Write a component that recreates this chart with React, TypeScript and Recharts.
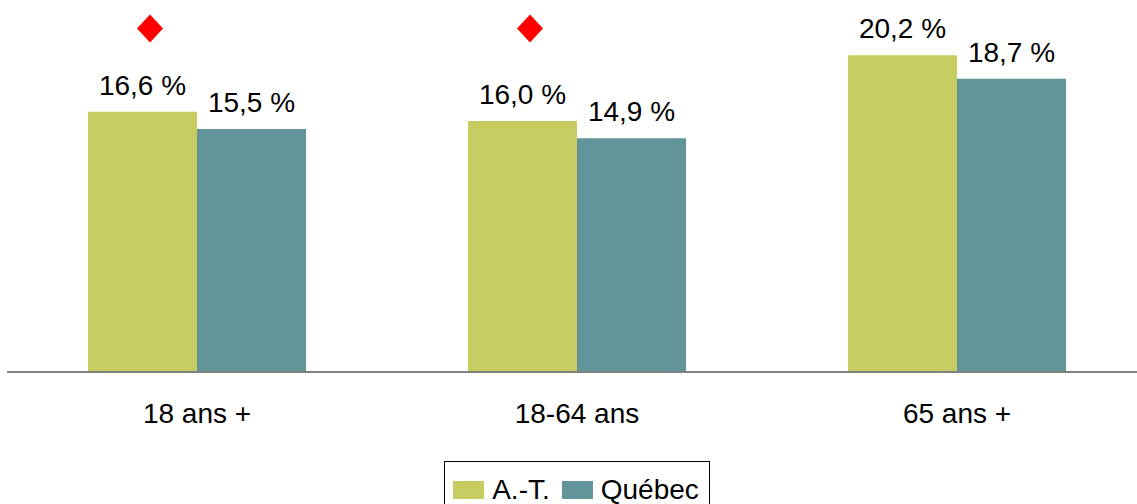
import React from 'react';
import { ComposedChart, Bar, Line, XAxis, YAxis, LabelList, Legend } from 'recharts';

const categories = ['18 ans +', '18-64 ans', '65 ans +'];
const atValues = [16.6, 16.0, 20.2];
const quebecValues = [15.5, 14.9, 18.7];
// significance marker (diamond) level, null = not significant
const sigMarkers = [21.9, 21.9, null];

const AT_COLOR = '#C6CC60';
const QC_COLOR = '#62959A';
const FONT = '"Liberation Sans", Arial, sans-serif';

const data = categories.map((name, i) => ({
    name,
    at: atValues[i],
    qc: quebecValues[i],
    sig: sigMarkers[i],
}));

const fmt = (v: any) => Number(v).toFixed(1).replace('.', ',') + ' %';

const Diamond = (props: any) => {
    const { cx, cy, value } = props;
    if (value == null || cx == null || cy == null) return null;
    const x = cx - 47;
    return (
        <polygon
            points={`${x},${cy - 14} ${x + 13},${cy} ${x},${cy + 14} ${x - 13},${cy}`}
            fill="#FF0000"
        />
    );
};

const LegendBox = (props: any) => {
    const items = (props.payload || []).filter((p: any) => p.type !== 'none');
    return (
        <div style={{ textAlign: 'center' }}>
            <div
                style={{
                    display: 'inline-flex',
                    alignItems: 'center',
                    border: '1px solid #000',
                    padding: '14px 10px 14px 8px',
                    fontFamily: FONT,
                    fontSize: 28,
                    color: '#000',
                    lineHeight: '28px',
                }}
            >
                {items.map((item: any, i: number) => (
                    <span key={i} style={{ display: 'inline-flex', alignItems: 'center', marginLeft: i ? 12 : 0 }}>
                        <span style={{ width: 31, height: 18, background: item.color, display: 'inline-block', marginRight: 8 }} />
                        {item.value}
                    </span>
                ))}
            </div>
        </div>
    );
};

export default function App() {
    return (
        <div style={{ position: 'fixed', left: 0, top: 0, width: 1137, height: 504, overflow: 'hidden', background: '#fff' }}>
            <ComposedChart
                width={1147}
                height={504}
                data={data}
                margin={{ top: 27, right: 0, left: 7, bottom: 72 }}
                barGap={0}
                barSize={109}
            >
                <XAxis
                    dataKey="name"
                    height={60}
                    tickLine={false}
                    tickSize={0}
                    tickMargin={31}
                    axisLine={{ stroke: '#808080', strokeWidth: 2 }}
                    tick={{ fill: '#000', fontSize: 28, fontFamily: FONT }}
                />
                <YAxis hide domain={[0, 22]} />
                <Legend
                    verticalAlign="middle"
                    align="center"
                    layout="horizontal"
                    wrapperStyle={{ top: 461 }}
                    content={<LegendBox />}
                />
                <Bar dataKey="at" name="A.-T." fill={AT_COLOR} isAnimationActive={false}>
                    <LabelList dataKey="at" position="top" offset={17} formatter={fmt} fill="#000" fontSize={28} fontFamily={FONT} />
                </Bar>
                <Bar dataKey="qc" name="Québec" fill={QC_COLOR} isAnimationActive={false}>
                    <LabelList dataKey="qc" position="top" offset={17} formatter={fmt} fill="#000" fontSize={28} fontFamily={FONT} />
                </Bar>
                <Line
                    dataKey="sig"
                    stroke="none"
                    legendType="none"
                    dot={<Diamond />}
                    activeDot={false}
                    isAnimationActive={false}
                />
            </ComposedChart>
        </div>
    );
}
